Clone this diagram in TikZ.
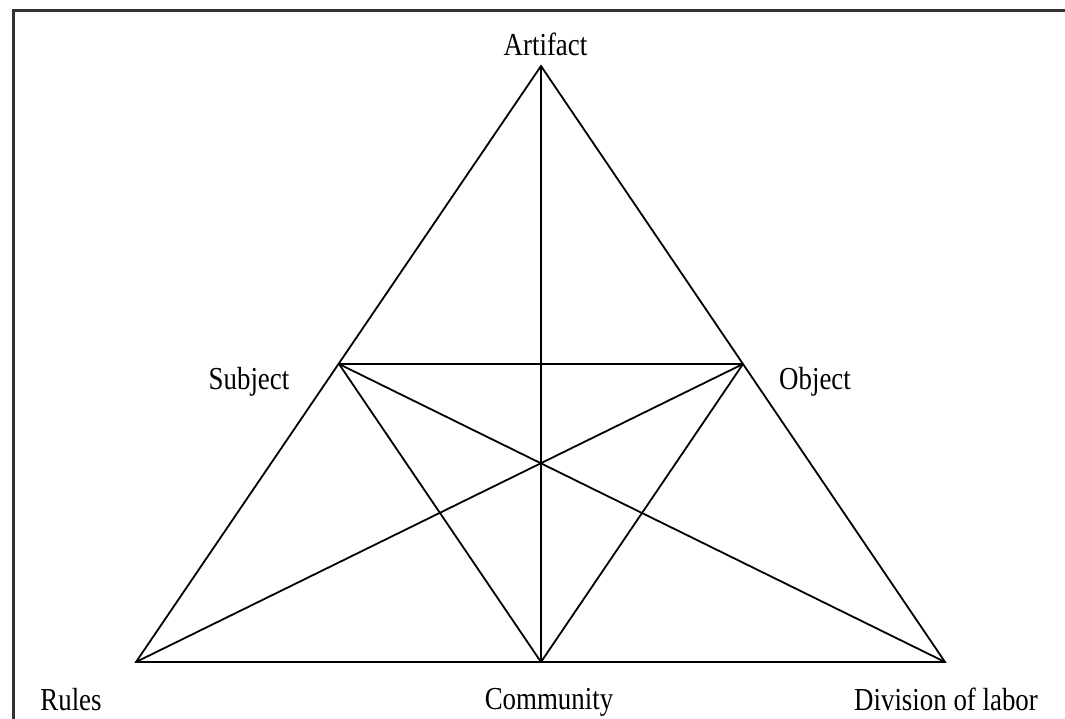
\documentclass[tikz,border=0pt]{standalone}
\usepackage{fontspec}
\setmainfont{Liberation Serif}
\begin{document}
\begin{tikzpicture}[x=1pt,y=-1pt,
  edge/.style={line width=1.8pt,black},
  lbl/.style={anchor=base,inner sep=0pt,font=\fontsize{32}{34}\selectfont,xscale=0.84}]
\useasboundingbox (0,0) rectangle (1065,718);
\fill[white] (0,0) rectangle (1065,718);
\draw[line width=3pt,color={black!80}] (13,725) -- (13,10) -- (1072,10);
\coordinate (A) at (541,66);
\coordinate (S) at (339,364);
\coordinate (O) at (743,364);
\coordinate (R) at (136,662);
\coordinate (C) at (541,662);
\coordinate (D) at (945,662);
\draw[edge,line join=miter] (A) -- (R) -- (D) -- cycle;
\draw[edge] (A) -- (C);
\draw[edge] (S) -- (O);
\draw[edge] (S) -- (C);
\draw[edge] (O) -- (C);
\draw[edge] (S) -- (D);
\draw[edge] (O) -- (R);
\node[lbl] (tA) at (545.5,55) {Artifact};
\node[lbl] (tS) at (249,389) {Subject};
\node[lbl] (tO) at (815,389) {Object};
\node[lbl] (tR) at (71,710) {Rules};
\node[lbl] (tC) at (549,709) {Community};
\node[lbl] (tD) at (946,710) {Division of labor};
\end{tikzpicture}
\end{document}
